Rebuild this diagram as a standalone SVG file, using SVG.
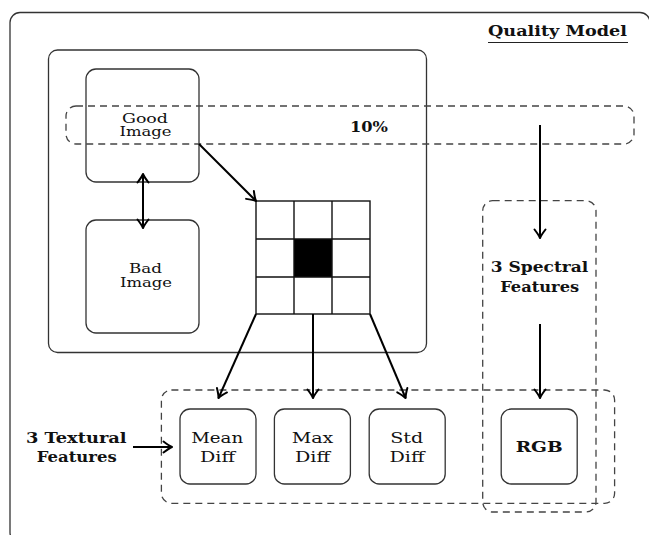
<svg xmlns="http://www.w3.org/2000/svg" width="649" height="535" viewBox="0 0 649 535">
<style>
.box{fill:none;stroke:#333;stroke-width:1.3}
.dash{fill:none;stroke:#444;stroke-width:1.3;stroke-dasharray:7 5}
.t{font-family:"DejaVu Serif","Liberation Serif",serif;font-size:14px;fill:#111;text-anchor:middle}
.s{font-size:12.5px}
.b{font-weight:bold}
.arr{fill:none;stroke:#000;stroke-width:2;marker-end:url(#ah)}
.grid{fill:none;stroke:#111;stroke-width:1.4}
</style>
<defs>
<marker id="ah" markerUnits="userSpaceOnUse" markerWidth="16" markerHeight="16" viewBox="-10 -8 12 16" refX="0" refY="0" orient="auto-start-reverse" overflow="visible">
<path d="M-8.5,-5.5 C-5,-2.8 -2.2,-0.9 0,0 C-2.2,0.9 -5,2.8 -8.5,5.5" fill="none" stroke="#000" stroke-width="2" stroke-linecap="round" stroke-linejoin="round"/>
</marker>
</defs>
<g id="frame">
<rect class="box" x="10" y="12.5" width="640" height="530" rx="10"/>
<text class="t b" x="557.5" y="36" font-size="15" textLength="139" lengthAdjust="spacingAndGlyphs">Quality Model</text>
<line x1="488" y1="42.5" x2="628" y2="42.5" stroke="#222" stroke-width="1.2"/>
</g>
<g id="image-panel">
<rect class="box" x="48.5" y="50" width="378" height="302.5" rx="9"/>
</g>
<g id="good-image">
<rect class="box" x="86" y="69" width="113" height="113" rx="10"/>
<text class="t s" x="145" y="122.5" textLength="46" lengthAdjust="spacingAndGlyphs">Good</text>
<text class="t s" x="145.5" y="136" textLength="52" lengthAdjust="spacingAndGlyphs">Image</text>
</g>
<g id="bad-image">
<rect class="box" x="86" y="220" width="113" height="113" rx="10"/>
<text class="t s" x="145.5" y="273" textLength="33" lengthAdjust="spacingAndGlyphs">Bad</text>
<text class="t s" x="146" y="286.5" textLength="52" lengthAdjust="spacingAndGlyphs">Image</text>
</g>
<g id="sample-band">
<rect class="dash" x="66" y="106" width="568" height="38" rx="10"/>
<text class="t b" x="369" y="132" textLength="38" lengthAdjust="spacingAndGlyphs">10%</text>
</g>
<g id="grid">
<rect x="294" y="239" width="38" height="38" fill="#000"/>
<rect class="grid" x="256" y="201" width="114" height="113"/>
<path class="grid" d="M294,201V314M332,201V314M256,239H370M256,277H370"/>
</g>
<g id="spectral">
<rect class="dash" x="482.7" y="200.7" width="113.3" height="311.3" rx="10"/>
<text class="t b" x="539.5" y="272" textLength="97.6" lengthAdjust="spacingAndGlyphs">3 Spectral</text>
<text class="t b" x="539.7" y="292" textLength="79" lengthAdjust="spacingAndGlyphs">Features</text>
</g>
<g id="textural">
<rect class="dash" x="161.4" y="390" width="453.2" height="113.3" rx="10"/>
<text class="t b" x="76.3" y="443" textLength="100.7" lengthAdjust="spacingAndGlyphs">3 Textural</text>
<text class="t b" x="76.7" y="462" textLength="80" lengthAdjust="spacingAndGlyphs">Features</text>
</g>
<g id="mean-diff">
<rect class="box" x="180" y="409" width="76" height="75" rx="10"/>
<text class="t" x="217.2" y="443.3" textLength="52" lengthAdjust="spacingAndGlyphs">Mean</text>
<text class="t" x="217.5" y="462" textLength="35" lengthAdjust="spacingAndGlyphs">Diff</text>
</g>
<g id="max-diff">
<rect class="box" x="274.4" y="409" width="76" height="75" rx="10"/>
<text class="t" x="312.5" y="443.3" textLength="41.7" lengthAdjust="spacingAndGlyphs">Max</text>
<text class="t" x="312.5" y="462" textLength="35" lengthAdjust="spacingAndGlyphs">Diff</text>
</g>
<g id="std-diff">
<rect class="box" x="369.2" y="409" width="76" height="75" rx="10"/>
<text class="t" x="406.7" y="443.3" textLength="33" lengthAdjust="spacingAndGlyphs">Std</text>
<text class="t" x="407" y="462" textLength="35" lengthAdjust="spacingAndGlyphs">Diff</text>
</g>
<g id="rgb">
<rect class="box" x="501.2" y="409" width="76" height="75" rx="10"/>
<text class="t b" x="539.2" y="451.7" textLength="47" lengthAdjust="spacingAndGlyphs">RGB</text>
</g>
<g id="connectors">
<line class="arr" x1="143" y1="174" x2="143" y2="228" style="marker-start:url(#ah)"/>
<line class="arr" x1="199" y1="144" x2="256" y2="201"/>
<line class="arr" x1="256" y1="314" x2="218.5" y2="398"/>
<line class="arr" x1="313" y1="314" x2="313" y2="398"/>
<line class="arr" x1="370" y1="314" x2="405.6" y2="398"/>
<line class="arr" x1="540" y1="125" x2="540" y2="238"/>
<line class="arr" x1="540" y1="324" x2="540" y2="398"/>
<line class="arr" x1="133" y1="447" x2="172" y2="447"/>
</g>
</svg>
